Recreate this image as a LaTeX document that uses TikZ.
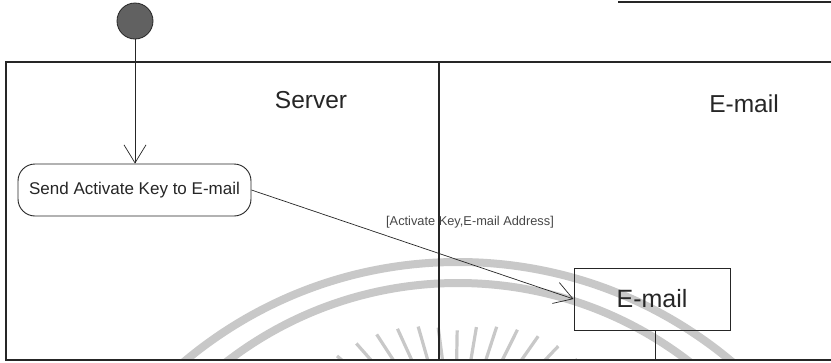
\documentclass[tikz,border=0pt]{standalone}
\usepackage{fontspec}
\setmainfont{Liberation Sans}
\usetikzlibrary{arrows.meta,calc}
\definecolor{ink}{HTML}{262626}
\definecolor{wmgray}{HTML}{C8C8C8}
\tikzset{
  frameline/.style={draw=ink, line width=1.1pt},
  conn/.style={draw=ink, line width=0.7pt, -{Straight Barb[length=18pt,width=22pt,line width=0.7pt]}},
  actbox/.style={draw=ink, line width=0.9pt, rounded corners=17pt, minimum width=233pt, minimum height=52pt, inner sep=0pt, font=\fontsize{17}{20}\selectfont, text=ink},
  objbox/.style={draw=ink, line width=0.9pt, minimum width=156pt, minimum height=62pt, inner sep=0pt, font=\fontsize{25}{29}\selectfont, text=ink},
  lanetitle/.style={inner sep=0pt, font=\fontsize{24.5}{29}\selectfont, text=ink},
  guard/.style={inner sep=0pt, font=\fontsize{12.8}{15}\selectfont, text=ink!85},
  initstate/.style={circle, draw=ink, line width=0.8pt, fill=black!62, minimum size=36pt, inner sep=0pt},
  wm/.style={draw=wmgray, line width=8pt},
  wmray/.style={draw=wmgray, line width=3.2pt}
}
\begin{document}
\begin{tikzpicture}[x=1pt,y=-1pt]
\useasboundingbox (0,0) rectangle (831,362);
\fill[white] (0,0) rectangle (831,362);
% watermark
\begin{scope}
\clip (0,0) rectangle (831,360);
\draw[wm] (458,688) circle[radius=426pt];
\draw[wm] (458,662) circle[radius=379pt];
\foreach \a in {38,46.5,55,63.5,72,80.5,89,97.5,106,114.5,123,131.5,140}{
  \pgfmathsetmacro{\r}{124+0.6*abs(\a-90)}
  \draw[wmray] ({455+\r*cos(\a)},{455-\r*sin(\a)}) -- ({455+(\r-80)*cos(\a)},{455-(\r-80)*sin(\a)});
}
\end{scope}
% top right line
\draw[ink, line width=2pt] (618,2) -- (831,2);
% swimlanes
\draw[frameline] (831,62) -- (6,62) -- (6,360) -- (831,360);
\draw[frameline] (439,62) -- (439,360);
\node[lanetitle] (srv) at (311,100) {Server};
\node[lanetitle] (eml) at (744,104) {E-mail};
% nodes
\node[initstate] (init) at (135,21) {};
\node[actbox] (act) at (134.5,190) {Send Activate Key to E-mail};
\node[objbox] (mail) at (652,299) {E-mail};
\node[guard] (lbl) at (470,222) {[Activate Key,E-mail Address]};
\coordinate (mailfoot) at (655,360);
% connectors
\draw[conn] (init.south) -- (init.south |- act.north);
\draw[conn] (act.east) -- (mail.west);
\draw[ink, line width=0.8pt] (mailfoot |- mail.south) -- (mailfoot);
\end{tikzpicture}
\end{document}
